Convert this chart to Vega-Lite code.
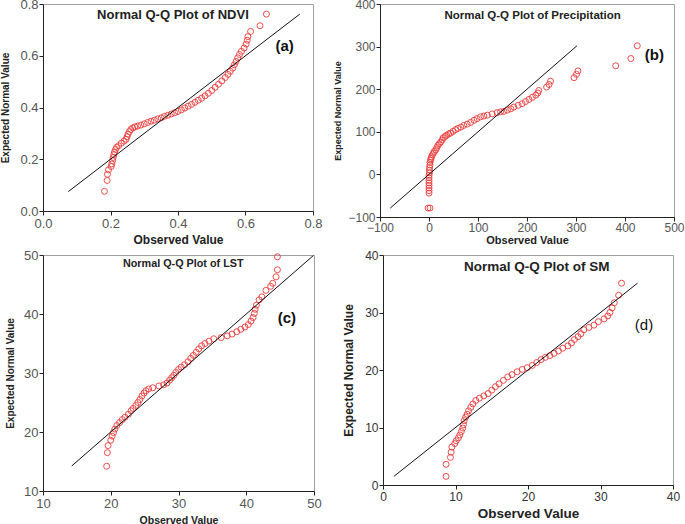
{
  "$schema": "https://vega.github.io/schema/vega-lite/v6.json",
  "padding": {"left": 0, "top": -3, "right": 0, "bottom": 0},
  "background": "white",
  "config": {
    "font": "Liberation Sans",
    "view": {"stroke": "#a0a0a0", "strokeWidth": 1},
    "axis": {
      "grid": false, "domainColor": "#222", "tickColor": "#222", "tickSize": 4,
      "labelFont": "Liberation Sans", "labelColor": "#555", "labelPadding": 2,
      "labelFlush": false, "labelOverlap": false,
      "titleFont": "Liberation Sans", "titleFontWeight": "bold", "titleColor": "#222"
    },
    "axisY": {"labelPadding": 1}
  },
  "datasets": {
    "ndvi": [
      {"o":0.182,"e":0.076},{"o":0.190,"e":0.118},{"o":0.191,"e":0.142},{"o":0.194,"e":0.159},{"o":0.202,"e":0.172},
      {"o":0.204,"e":0.182},{"o":0.206,"e":0.195},{"o":0.208,"e":0.207},{"o":0.210,"e":0.218},{"o":0.212,"e":0.228},
      {"o":0.215,"e":0.238},{"o":0.218,"e":0.246},{"o":0.224,"e":0.252},{"o":0.232,"e":0.262},{"o":0.240,"e":0.270},
      {"o":0.246,"e":0.277},{"o":0.249,"e":0.287},{"o":0.252,"e":0.297},{"o":0.256,"e":0.307},{"o":0.260,"e":0.315},
      {"o":0.266,"e":0.321},{"o":0.272,"e":0.325},{"o":0.280,"e":0.328},{"o":0.290,"e":0.332},{"o":0.300,"e":0.337},
      {"o":0.310,"e":0.342},{"o":0.320,"e":0.347},{"o":0.330,"e":0.351},{"o":0.340,"e":0.356},{"o":0.350,"e":0.360},
      {"o":0.360,"e":0.366},{"o":0.370,"e":0.370},{"o":0.380,"e":0.375},{"o":0.390,"e":0.380},{"o":0.400,"e":0.385},
      {"o":0.410,"e":0.391},{"o":0.420,"e":0.398},{"o":0.430,"e":0.405},{"o":0.440,"e":0.412},{"o":0.450,"e":0.420},
      {"o":0.460,"e":0.428},{"o":0.470,"e":0.436},{"o":0.480,"e":0.445},{"o":0.490,"e":0.455},{"o":0.500,"e":0.466},
      {"o":0.510,"e":0.478},{"o":0.520,"e":0.490},{"o":0.530,"e":0.503},{"o":0.540,"e":0.516},{"o":0.548,"e":0.528},
      {"o":0.555,"e":0.540},{"o":0.562,"e":0.552},{"o":0.567,"e":0.565},{"o":0.572,"e":0.578},{"o":0.577,"e":0.592},
      {"o":0.582,"e":0.605},{"o":0.588,"e":0.617},{"o":0.596,"e":0.630},{"o":0.602,"e":0.645},{"o":0.605,"e":0.660},
      {"o":0.607,"e":0.674},{"o":0.615,"e":0.694},{"o":0.643,"e":0.716},{"o":0.662,"e":0.761}
    ],
    "prec": [
      {"o":-2,"e":-79},{"o":2,"e":-79},{"o":0,"e":-44},{"o":0,"e":-38},{"o":0,"e":-32},{"o":0,"e":-26},{"o":0,"e":-20},
      {"o":0,"e":-14},{"o":0,"e":-8},{"o":0,"e":-2},{"o":1,"e":4},{"o":1,"e":10},{"o":1,"e":16},{"o":2,"e":22},
      {"o":2,"e":28},{"o":3,"e":33},{"o":4,"e":37},{"o":5,"e":41},{"o":7,"e":46},{"o":9,"e":50},{"o":11,"e":54},
      {"o":14,"e":58},{"o":16,"e":63},{"o":18,"e":68},{"o":21,"e":72},{"o":24,"e":76},{"o":27,"e":81},{"o":29,"e":86},
      {"o":33,"e":89},{"o":36,"e":92},{"o":40,"e":95},{"o":44,"e":97},{"o":49,"e":101},{"o":54,"e":105},{"o":59,"e":108},
      {"o":65,"e":111},{"o":71,"e":115},{"o":78,"e":118},{"o":85,"e":122},{"o":92,"e":127},{"o":98,"e":131},
      {"o":105,"e":135},{"o":112,"e":137},{"o":119,"e":139},{"o":129,"e":142},{"o":139,"e":145},{"o":146,"e":147},
      {"o":153,"e":148},{"o":160,"e":151},{"o":167,"e":154},{"o":173,"e":158},{"o":182,"e":162},{"o":190,"e":166},
      {"o":197,"e":171},{"o":204,"e":176},{"o":211,"e":181},{"o":218,"e":186},{"o":222,"e":191},{"o":224,"e":197},
      {"o":240,"e":205},{"o":245,"e":211},{"o":248,"e":219},{"o":296,"e":227},{"o":301,"e":235},{"o":304,"e":243},
      {"o":381,"e":255},{"o":412,"e":272},{"o":425,"e":302}
    ],
    "lst": [
      {"o":19.4,"e":14.2},{"o":19.5,"e":16.5},{"o":19.6,"e":17.7},{"o":20.0,"e":18.6},{"o":20.2,"e":19.3},{"o":20.4,"e":19.9},
      {"o":20.6,"e":20.5},{"o":20.9,"e":21.1},{"o":21.3,"e":21.6},{"o":21.7,"e":22.1},{"o":22.1,"e":22.5},{"o":22.6,"e":23.0},
      {"o":23.0,"e":23.6},{"o":23.3,"e":24.0},{"o":23.7,"e":24.5},{"o":24.0,"e":25.0},{"o":24.3,"e":25.5},{"o":24.6,"e":26.1},
      {"o":24.9,"e":26.6},{"o":25.2,"e":27.0},{"o":25.6,"e":27.3},{"o":26.2,"e":27.5},{"o":27.1,"e":27.8},{"o":27.8,"e":28.0},
      {"o":28.3,"e":28.3},{"o":28.7,"e":28.8},{"o":29.0,"e":29.2},{"o":29.3,"e":29.6},{"o":29.6,"e":30.1},{"o":30.0,"e":30.6},
      {"o":30.4,"e":31.0},{"o":30.9,"e":31.4},{"o":31.4,"e":31.9},{"o":31.8,"e":32.5},{"o":32.2,"e":33.0},{"o":32.6,"e":33.5},
      {"o":33.0,"e":34.1},{"o":33.4,"e":34.6},{"o":33.9,"e":35.0},{"o":34.5,"e":35.4},{"o":35.2,"e":35.8},{"o":36.3,"e":36.0},
      {"o":37.2,"e":36.3},{"o":37.9,"e":36.6},{"o":38.6,"e":37.0},{"o":39.2,"e":37.4},{"o":39.8,"e":37.8},{"o":40.3,"e":38.2},
      {"o":40.7,"e":38.8},{"o":41.0,"e":39.4},{"o":41.2,"e":40.1},{"o":41.3,"e":40.8},{"o":41.5,"e":41.5},{"o":41.9,"e":42.4},
      {"o":42.3,"e":42.9},{"o":42.9,"e":44.0},{"o":43.6,"e":44.7},{"o":43.9,"e":45.2},{"o":44.4,"e":46.3},{"o":44.6,"e":47.5},
      {"o":44.6,"e":49.7}
    ],
    "sm": [
      {"o":8.7,"e":1.5},{"o":8.7,"e":3.6},{"o":9.3,"e":4.8},{"o":9.4,"e":5.7},{"o":9.5,"e":6.6},{"o":9.9,"e":7.2},{"o":10.1,"e":7.7},
      {"o":10.4,"e":8.2},{"o":10.6,"e":8.7},{"o":10.8,"e":9.3},{"o":11.0,"e":9.9},{"o":11.1,"e":10.5},{"o":11.2,"e":11.2},
      {"o":11.4,"e":11.8},{"o":11.6,"e":12.3},{"o":11.8,"e":12.9},{"o":12.1,"e":13.5},{"o":12.4,"e":14.1},{"o":12.8,"e":14.7},
      {"o":13.3,"e":15.1},{"o":13.9,"e":15.5},{"o":14.5,"e":15.9},{"o":15.0,"e":16.5},{"o":15.5,"e":17.1},{"o":16.0,"e":17.6},
      {"o":16.6,"e":18.2},{"o":17.2,"e":18.8},{"o":17.8,"e":19.2},{"o":18.5,"e":19.7},{"o":19.2,"e":20.1},{"o":19.9,"e":20.4},
      {"o":20.6,"e":20.8},{"o":21.2,"e":21.3},{"o":21.8,"e":21.8},{"o":22.4,"e":22.2},{"o":23.0,"e":22.5},{"o":23.6,"e":22.9},
      {"o":24.2,"e":23.3},{"o":24.8,"e":23.8},{"o":25.5,"e":24.2},{"o":26.0,"e":24.7},{"o":26.4,"e":25.3},{"o":26.9,"e":25.8},
      {"o":27.3,"e":26.3},{"o":27.7,"e":27.0},{"o":28.4,"e":27.4},{"o":29.1,"e":27.8},{"o":29.7,"e":28.4},{"o":30.5,"e":28.9},
      {"o":31.0,"e":29.4},{"o":31.3,"e":30.0},{"o":31.6,"e":30.8},{"o":31.9,"e":31.7},{"o":32.5,"e":33.0},{"o":32.9,"e":35.1}
    ]
  },
  "vconcat": [
    {
      "hconcat": [
        {
          "width": 270, "height": 207,
          "layer": [
            {
              "data": {"name": "ndvi"},
              "mark": {"type": "point", "shape": "circle", "filled": false, "size": 36, "color": "#ee3b3b", "strokeWidth": 1, "opacity": 0.9},
              "encoding": {
                "x": {"field": "o", "type": "quantitative", "scale": {"domain": [0, 0.8], "nice": false, "zero": false},
                  "axis": {"title": "Observed Value", "values": [0, 0.2, 0.4, 0.6, 0.8], "format": ".1f", "labelFontSize": 13, "titleFontSize": 12, "titlePadding": 4}},
                "y": {"field": "e", "type": "quantitative", "scale": {"domain": [0, 0.8], "nice": false, "zero": false},
                  "axis": {"title": "Expected Normal Value", "values": [0, 0.2, 0.4, 0.6, 0.8], "format": ".1f", "labelFontSize": 13, "titleFontSize": 10, "titlePadding": 9}}
              }
            },
            {
              "data": {"values": [{"lo": 0.075, "hi": 0.761}]},
              "mark": {"type": "rule", "color": "#111", "strokeWidth": 1},
              "encoding": {
                "x": {"field": "lo", "type": "quantitative", "title": "Observed Value"},
                "y": {"field": "lo", "type": "quantitative", "title": "Expected Normal Value"},
                "x2": {"field": "hi"}, "y2": {"field": "hi"}
              }
            },
            {
              "data": {"values": [{"label": "Normal Q-Q Plot of NDVI"}]},
              "mark": {"type": "text", "fontSize": 13, "fontWeight": "bold", "color": "#222"},
              "encoding": {"x": {"datum": 0.385, "type": "quantitative"}, "y": {"datum": 0.759, "type": "quantitative"}, "text": {"field": "label"}}
            },
            {
              "data": {"values": [{"label": "(a)"}]},
              "mark": {"type": "text", "fontSize": 15, "fontWeight": "bold", "color": "#111"},
              "encoding": {"x": {"datum": 0.716, "type": "quantitative"}, "y": {"datum": 0.639, "type": "quantitative"}, "text": {"field": "label"}}
            }
          ]
        },
        {
          "width": 294, "height": 213,
          "layer": [
            {
              "data": {"name": "prec"},
              "mark": {"type": "point", "shape": "circle", "filled": false, "size": 36, "color": "#ee3b3b", "strokeWidth": 1, "opacity": 0.9},
              "encoding": {
                "x": {"field": "o", "type": "quantitative", "scale": {"domain": [-100, 500], "nice": false, "zero": false},
                  "axis": {"title": "Observed Value", "values": [-100, 0, 100, 200, 300, 400, 500], "format": "d", "labelFontSize": 12, "labelPadding": 1, "titleFontSize": 11, "titlePadding": 1}},
                "y": {"field": "e", "type": "quantitative", "scale": {"domain": [-100, 400], "nice": false, "zero": false},
                  "axis": {"title": "Expected Normal Value", "values": [-100, 0, 100, 200, 300, 400], "format": "d", "labelFontSize": 12, "titleFontSize": 9, "titlePadding": 5}}
              }
            },
            {
              "data": {"values": [{"lo": -79, "hi": 302}]},
              "mark": {"type": "rule", "color": "#111", "strokeWidth": 1},
              "encoding": {
                "x": {"field": "lo", "type": "quantitative", "title": "Observed Value"},
                "y": {"field": "lo", "type": "quantitative", "title": "Expected Normal Value"},
                "x2": {"field": "hi"}, "y2": {"field": "hi"}
              }
            },
            {
              "data": {"values": [{"label": "Normal Q-Q Plot of Precipitation"}]},
              "mark": {"type": "text", "fontSize": 11.5, "fontWeight": "bold", "color": "#222"},
              "encoding": {"x": {"datum": 211.6, "type": "quantitative"}, "y": {"datum": 372.5, "type": "quantitative"}, "text": {"field": "label"}}
            },
            {
              "data": {"values": [{"label": "(b)"}]},
              "mark": {"type": "text", "fontSize": 15, "fontWeight": "bold", "color": "#111"},
              "encoding": {"x": {"datum": 459.8, "type": "quantitative"}, "y": {"datum": 280.3, "type": "quantitative"}, "text": {"field": "label"}}
            }
          ]
        }
      ],
      "spacing": 67,
      "bounds": "flush"
    },
    {
      "hconcat": [
        {
          "width": 271, "height": 236,
          "layer": [
            {
              "data": {"name": "lst"},
              "mark": {"type": "point", "shape": "circle", "filled": false, "size": 36, "color": "#ee3b3b", "strokeWidth": 1, "opacity": 0.9},
              "encoding": {
                "x": {"field": "o", "type": "quantitative", "scale": {"domain": [10, 50], "nice": false, "zero": false},
                  "axis": {"title": "Observed Value", "values": [10, 20, 30, 40, 50], "format": "d", "labelFontSize": 13, "titleFontSize": 10.5, "titlePadding": 5}},
                "y": {"field": "e", "type": "quantitative", "scale": {"domain": [10, 50], "nice": false, "zero": false},
                  "axis": {"title": "Expected Normal Value", "values": [10, 20, 30, 40, 50], "format": "d", "labelFontSize": 13, "titleFontSize": 10, "titlePadding": 8}}
              }
            },
            {
              "data": {"values": [{"lo": 14.24, "hi": 49.9}]},
              "mark": {"type": "rule", "color": "#111", "strokeWidth": 1},
              "encoding": {
                "x": {"field": "lo", "type": "quantitative", "title": "Observed Value"},
                "y": {"field": "lo", "type": "quantitative", "title": "Expected Normal Value"},
                "x2": {"field": "hi"}, "y2": {"field": "hi"}
              }
            },
            {
              "data": {"values": [{"label": "Normal Q-Q Plot of LST"}]},
              "mark": {"type": "text", "fontSize": 10.8, "fontWeight": "bold", "color": "#222"},
              "encoding": {"x": {"datum": 30.7, "type": "quantitative"}, "y": {"datum": 48.5, "type": "quantitative"}, "text": {"field": "label"}}
            },
            {
              "data": {"values": [{"label": "(c)"}]},
              "mark": {"type": "text", "fontSize": 15, "fontWeight": "bold", "color": "#111"},
              "encoding": {"x": {"datum": 46.0, "type": "quantitative"}, "y": {"datum": 39.3, "type": "quantitative"}, "text": {"field": "label"}}
            }
          ]
        },
        {
          "width": 290, "height": 230,
          "layer": [
            {
              "data": {"name": "sm"},
              "mark": {"type": "point", "shape": "circle", "filled": false, "size": 36, "color": "#ee3b3b", "strokeWidth": 1, "opacity": 0.9},
              "encoding": {
                "x": {"field": "o", "type": "quantitative", "scale": {"domain": [0, 40], "nice": false, "zero": false},
                  "axis": {"title": "Observed Value", "values": [0, 10, 20, 30, 40], "format": "d", "labelFontSize": 12, "labelColor": "#333", "titleFontSize": 13.5, "titlePadding": 4}},
                "y": {"field": "e", "type": "quantitative", "scale": {"domain": [0, 40], "nice": false, "zero": false},
                  "axis": {"title": "Expected Normal Value", "values": [0, 10, 20, 30, 40], "format": "d", "labelFontSize": 12, "labelColor": "#333", "titleFontSize": 12, "titlePadding": 9}}
              }
            },
            {
              "data": {"values": [{"lo": 1.5, "hi": 35.1}]},
              "mark": {"type": "rule", "color": "#111", "strokeWidth": 1},
              "encoding": {
                "x": {"field": "lo", "type": "quantitative", "title": "Observed Value"},
                "y": {"field": "lo", "type": "quantitative", "title": "Expected Normal Value"},
                "x2": {"field": "hi"}, "y2": {"field": "hi"}
              }
            },
            {
              "data": {"values": [{"label": "Normal Q-Q Plot of SM"}]},
              "mark": {"type": "text", "fontSize": 13.5, "fontWeight": "bold", "color": "#222"},
              "encoding": {"x": {"datum": 21.2, "type": "quantitative"}, "y": {"datum": 38.0, "type": "quantitative"}, "text": {"field": "label"}}
            },
            {
              "data": {"values": [{"label": "(d)"}]},
              "mark": {"type": "text", "fontSize": 15, "fontWeight": "normal", "color": "#111"},
              "encoding": {"x": {"datum": 36.0, "type": "quantitative"}, "y": {"datum": 27.8, "type": "quantitative"}, "text": {"field": "label"}}
            }
          ]
        }
      ],
      "spacing": 69,
      "bounds": "flush"
    }
  ],
  "spacing": 2
}
